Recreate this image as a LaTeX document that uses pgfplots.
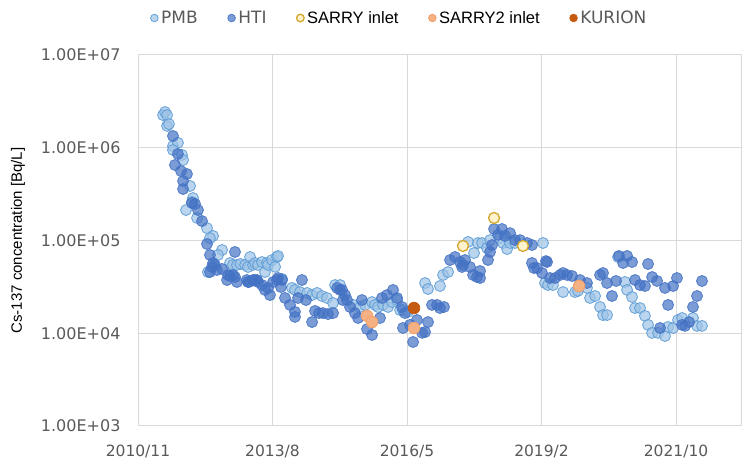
\documentclass[border=0pt]{standalone}
\usepackage{pgfplots}
\pgfplotsset{compat=1.18}
\usepackage{pgfplotstable}
\usepackage{fontspec}
\setmainfont{DejaVu Sans}
\newfontfamily\arial{Liberation Sans}
\definecolor{pmbfill}{HTML}{9DC3E6}
\definecolor{pmbedge}{HTML}{5B9BD5}
\definecolor{htifill}{HTML}{4472C4}
\definecolor{htiedge}{HTML}{4472C4}
\definecolor{sarryfill}{HTML}{FFF2CC}
\definecolor{sarryedge}{HTML}{D4A72C}
\definecolor{sarrytwo}{HTML}{F4B183}
\definecolor{sarrytwoedge}{HTML}{F2A06A}
\definecolor{kurion}{HTML}{C55A11}
\definecolor{tickgray}{HTML}{595959}
\definecolor{gridgray}{HTML}{D9D9D9}

\pgfplotstableread{
x y
186 2.25e6
201 2.43e6
216 2.25e6
216 1.72e6
230 1.80e6
260 1.04e6
297 1.13e6
260 9.46e5
327 8.36e5
335 7.38e5
387 3.87e5
409 2.87e5
401 2.60e5
357 2.13e5
439 1.75e5
513 1.36e5
558 1.12e5
535 1.06e5
625 7.90e4
595 6.98e4
520 4.57e4
684 5.72e4
706 5.45e4
736 5.45e4
762 5.60e4
796 5.45e4
818 5.18e4
833 6.64e4
855 5.45e4
870 5.72e4
892 5.45e4
922 5.86e4
944 4.57e4
959 5.72e4
967 5.45e4
996 6.16e4
1019 5.20e4
1033 6.64e4
1041 6.81e4
1071 3.85e4
1145 3.08e4
1167 2.93e4
1204 2.78e4
1257 2.72e4
1294 2.58e4
1331 2.72e4
1368 2.52e4
1405 2.40e4
1450 2.12e4
1465 3.31e4
1502 3.31e4
1599 2.02e4
1651 1.92e4
1688 2.02e4
1740 2.17e4
1762 2.02e4
1784 1.92e4
1822 2.02e4
1859 1.92e4
1889 2.17e4
1926 2.28e4
1948 1.78e4
1970 1.78e4
2007 1.70e4
2134 3.48e4
2156 3.00e4
2245 3.23e4
2268 4.25e4
2305 4.57e4
2454 9.64e4
2498 7.33e4
2528 9.40e4
2558 9.40e4
2595 8.30e4
2617 1.01e5
2691 1.06e5
2714 9.40e4
2744 8.09e4
2766 9.40e4
2803 9.40e4
3011 9.40e4
3026 3.48e4
3048 3.31e4
3085 3.31e4
3160 2.78e4
3249 2.78e4
3271 2.86e4
3338 3.08e4
3361 2.40e4
3398 2.52e4
3435 1.92e4
3457 1.57e4
3487 1.57e4
3569 6.64e4
3621 3.57e4
3636 2.93e4
3673 2.46e4
3695 1.87e4
3732 1.87e4
3769 1.54e4
3792 1.23e4
3822 1.01e4
3866 1.01e4
3918 9.34e3
3941 1.17e4
3978 1.14e4
4015 1.39e4
4045 1.46e4
4126 1.46e4
4156 1.20e4
4193 1.20e4
}\pmb

\pgfplotstableread{
x y
260 1.34e6
297 8.57e5
275 6.52e5
320 5.61e5
364 5.21e5
335 4.38e5
335 3.59e5
401 2.54e5
424 2.48e5
446 2.13e5
476 1.62e5
513 9.17e4
535 6.98e4
558 5.72e4
550 5.18e4
572 5.45e4
587 4.81e4
625 4.93e4
535 4.57e4
662 3.75e4
669 4.25e4
684 4.14e4
706 4.25e4
721 4.04e4
721 7.52e4
736 3.57e4
810 3.75e4
818 3.57e4
825 3.57e4
855 3.75e4
870 3.75e4
885 3.75e4
892 3.57e4
922 3.31e4
944 2.93e4
967 3.08e4
981 2.58e4
1004 3.57e4
1033 3.75e4
1041 3.94e4
1063 3.15e4
1071 3.75e4
1093 2.40e4
1130 2.02e4
1167 1.70e4
1167 1.50e4
1190 2.40e4
1219 3.75e4
1249 2.28e4
1294 1.32e4
1316 1.74e4
1346 1.65e4
1375 1.65e4
1413 1.61e4
1450 1.65e4
1480 3.08e4
1502 2.93e4
1517 2.93e4
1524 2.28e4
1539 2.58e4
1554 2.28e4
1576 1.92e4
1613 1.65e4
1636 1.46e4
1665 2.28e4
1703 1.11e4
1740 9.58e3
1799 1.46e4
1814 2.40e4
1851 2.58e4
1896 2.93e4
1926 2.40e4
1963 1.92e4
1985 1.65e4
1970 1.14e4
2022 1.23e4
2045 8.05e3
2074 1.39e4
2112 1.01e4
2134 1.03e4
2156 1.32e4
2186 2.02e4
2223 2.02e4
2245 1.87e4
2275 1.92e4
2320 6.16e4
2357 6.64e4
2394 5.86e4
2409 5.18e4
2416 5.45e4
2431 6.16e4
2468 5.18e4
2491 4.25e4
2520 4.04e4
2543 3.94e4
2543 4.69e4
2602 6.16e4
2617 7.52e4
2632 8.94e4
2647 1.33e5
2677 1.15e5
2706 1.33e5
2729 1.12e5
2766 1.20e5
2803 1.01e5
2840 1.01e5
2892 9.40e4
2929 8.94e4
2929 5.72e4
2944 5.05e4
2967 5.05e4
3004 4.46e4
3033 6.00e4
3041 5.86e4
3063 3.94e4
3100 3.94e4
3138 4.25e4
3160 4.46e4
3190 4.25e4
3227 4.14e4
3286 3.75e4
3338 3.48e4
3435 4.25e4
3457 4.46e4
3487 3.48e4
3524 2.52e4
3554 3.66e4
3576 6.81e4
3606 5.72e4
3636 6.81e4
3673 5.86e4
3695 3.75e4
3732 3.31e4
3769 3.23e4
3792 5.58e4
3822 4.04e4
3859 3.66e4
3881 1.14e4
3918 3.08e4
3941 2.02e4
3978 3.23e4
4007 3.94e4
4045 1.23e4
4067 1.20e4
4097 1.32e4
4126 1.92e4
4156 2.52e4
4193 3.66e4
}\hti

\begin{document}
\begin{tikzpicture}
\path[use as bounding box] (0,0) rectangle (743pt,473pt);
\begin{axis}[
  at={(138pt,47pt)}, anchor=south west,
  scale only axis, width=603pt, height=371pt,
  ymode=log, ymin=1e3, ymax=1e7,
  xmin=0, xmax=4483,
  xtick={0,1000,2000,3000,4000},
  xticklabels={2010/11,2013/8,2016/5,2019/2,2021/10},
  ytick={1e3,1e4,1e5,1e6,1e7},
  yticklabels={1.00E+03,1.00E+04,1.00E+05,1.00E+06,1.00E+07},
  yminorticks=false,
  /pgf/number format/assume math mode=true,
  major tick length=0pt,
  xmajorgrids, ymajorgrids,
  grid style={gridgray, line width=1pt},
  axis line style={gridgray, line width=1pt},
  ticklabel style={text=tickgray},
  yticklabel style={font=\fontsize{16}{18}\selectfont, xshift=-14pt},
  xticklabel style={font=\fontsize{15.5}{18}\selectfont, yshift=-15pt},
  ylabel={Cs-137 concentration [Bq/L]},
  ylabel style={font=\arial\fontsize{15}{18}\selectfont, at={(axis description cs:-0.199,0.5)}, anchor=center},
  clip=false,
  legend columns=-1,
  legend style={at={(axis description cs:0.4345,1.0997)}, anchor=center, draw=none, fill=none,
    /tikz/every even column/.append style={column sep=27pt},
    nodes={inner sep=3pt}},
  legend image code/.code={\draw[#1, mark size=3.8pt] plot coordinates {(0pt,0pt)};},
]
\addplot[only marks, mark=*, mark size=5.5pt,
  mark options={fill=pmbfill, draw=pmbedge, fill opacity=0.7, draw opacity=0.85, line width=0.9pt}]
  table[x=x,y=y] {\pmb};
\addlegendentry{\textcolor{tickgray}{\fontsize{17}{19}\selectfont PMB}}
\addplot[only marks, mark=*, mark size=5.5pt,
  mark options={fill=htifill, draw=htiedge, fill opacity=0.7, draw opacity=0.85, line width=0.9pt}]
  table[x=x,y=y] {\hti};
\addlegendentry{\textcolor{tickgray}{\fontsize{17}{19}\selectfont HTI}}
\addplot[only marks, mark=*, mark size=5.5pt,
  mark options={fill=sarryfill, draw=sarryedge, line width=1.3pt}]
  coordinates {(2416,8.73e4) (2647,1.75e5) (2862,8.73e4)};
\addlegendentry{\arial\fontsize{16.5}{19}\selectfont SARRY inlet}
\addplot[only marks, mark=*, mark size=5.8pt,
  mark options={fill=sarrytwo, draw=sarrytwoedge, line width=0.8pt}]
  coordinates {(1703,1.54e4) (1740,1.32e4) (2052,1.14e4) (3279,3.23e4)};
\addlegendentry{\arial\fontsize{16.5}{19}\selectfont SARRY2 inlet}
\addplot[only marks, mark=*, mark size=5.8pt,
  mark options={fill=kurion, draw=kurion, line width=0.8pt}]
  coordinates {(2052,1.87e4)};
\addlegendentry{\textcolor{tickgray}{\fontsize{17}{19}\selectfont KURION}}
\end{axis}
\end{tikzpicture}
\end{document}
